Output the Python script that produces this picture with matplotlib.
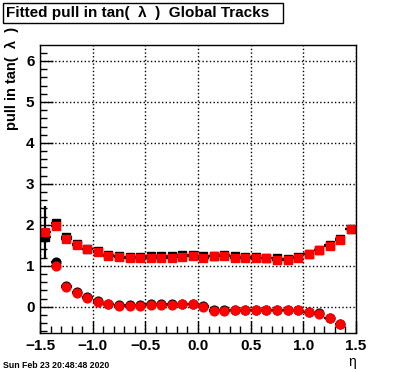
import matplotlib

matplotlib.use("Agg")
import matplotlib.pyplot as plt
from matplotlib.patches import Rectangle
from matplotlib.ticker import MultipleLocator
import numpy as np

plt.rcParams["font.family"] = ["Liberation Sans", "DejaVu Sans"]

# bin centres in eta
eta = [-1.45, -1.35, -1.25, -1.15, -1.05, -0.95, -0.85, -0.75, -0.65, -0.55,
       -0.45, -0.35, -0.25, -0.15, -0.05, 0.05, 0.15, 0.25, 0.35, 0.45,
       0.55, 0.65, 0.75, 0.85, 0.95, 1.05, 1.15, 1.25, 1.35, 1.45]

# width of the fitted pull (squares)
sigma_black = [1.70, 2.04, 1.71, 1.53, 1.42, 1.35, 1.26, 1.23, 1.21, 1.22,
               1.24, 1.23, 1.25, 1.27, 1.26, 1.24, 1.25, 1.27, 1.23, 1.22,
               1.21, 1.20, 1.18, 1.17, 1.21, 1.29, 1.39, 1.50, 1.65, 1.91]
sigma_red = [1.83, 1.96, 1.66, 1.50, 1.40, 1.33, 1.25, 1.22, 1.19, 1.20,
             1.20, 1.19, 1.20, 1.22, 1.23, 1.20, 1.23, 1.23, 1.20, 1.19,
             1.18, 1.18, 1.15, 1.15, 1.20, 1.28, 1.38, 1.49, 1.63, 1.89]
sigma_red_err = [0.64] + [0.02] * 29

# mean of the fitted pull (circles), no entry in the outer bins
nan = np.nan
mean_black = [nan, 1.10, 0.51, 0.35, 0.23, 0.13, 0.07, 0.04, 0.04, 0.04,
              0.06, 0.06, 0.06, 0.07, 0.07, 0.02, -0.09, -0.09, -0.08, -0.07,
              -0.07, -0.07, -0.07, -0.07, -0.08, -0.12, -0.16, -0.27, -0.41, nan]
mean_red = [nan, 1.00, 0.49, 0.33, 0.22, 0.12, 0.06, 0.03, 0.03, 0.03,
            0.05, 0.05, 0.05, 0.07, 0.07, -0.01, -0.10, -0.10, -0.09, -0.07,
            -0.07, -0.07, -0.07, -0.07, -0.08, -0.13, -0.18, -0.28, -0.42, nan]

xerr = 0.05

W, H = 396, 372
fig = plt.figure(figsize=(W / 100, H / 100), dpi=100)
ax = fig.add_axes([40 / W, 1 - 333 / H, 316 / W, 288 / H])

eb = dict(xerr=xerr, ecolor="black", elinewidth=1.6, capsize=0, linestyle="none")
ax.errorbar(eta, sigma_black, yerr=0.02, fmt="s", mfc="black", mec="black", ms=5.5, **eb)
ax.errorbar(eta, mean_black, yerr=0.02, fmt="o", mfc="black", mec="black", ms=6.3, **eb)
ax.errorbar(eta, sigma_red, yerr=sigma_red_err, fmt="s", mfc="red", mec="red", ms=5.5, **eb)
ax.errorbar(eta, mean_red, yerr=0.02, fmt="o", mfc="red", mec="red", ms=6.3, **eb)

ax.set_xlim(-1.5, 1.5)
ax.set_ylim(-0.64, 6.39)
ax.xaxis.set_major_locator(MultipleLocator(0.5))
ax.xaxis.set_minor_locator(MultipleLocator(0.1))
ax.yaxis.set_major_locator(MultipleLocator(1))
ax.yaxis.set_minor_locator(MultipleLocator(0.2))
ax.tick_params(which="both", direction="in", top=False, right=False, width=1)
ax.tick_params(which="major", length=9, labelsize=11, pad=4)
ax.tick_params(which="minor", length=5)
for lab in ax.get_xticklabels() + ax.get_yticklabels():
    lab.set_fontweight("bold")
ax.grid(True, which="major", color="black", linestyle=":", linewidth=1)
for s in ax.spines.values():
    s.set_linewidth(1)

fig.text(12 / W, 1 - 27 / H, "pull in tan(  λ  )", rotation=90, ha="center", va="top",
         fontsize=10.5, fontweight="bold")
fig.text(356 / W, 1 - 362 / H, "η", ha="right", va="center", fontsize=10)
fig.text(3 / W, 1 - 365 / H, "Sun Feb 23 20:48:48 2020", ha="left", va="center",
         fontsize=6.3, fontweight="bold")

fig.patches.append(Rectangle((3 / W, 1 - 23 / H), 280 / W, 20 / H, transform=fig.transFigure,
                             facecolor="white", edgecolor="black", linewidth=1))
fig.text(138 / W, 1 - 13 / H, "Fitted pull in tan(  λ  )  Global Tracks", ha="center",
         va="center", fontsize=11, fontweight="bold")

fig.savefig("out.png", dpi=100)
